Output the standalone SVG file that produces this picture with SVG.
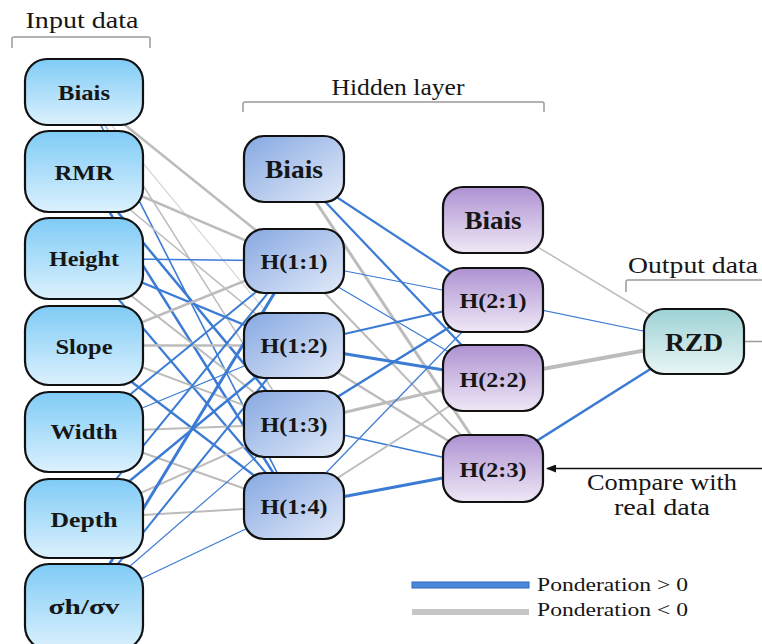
<svg xmlns="http://www.w3.org/2000/svg" width="762" height="644" viewBox="0 0 762 644">
<defs>
<linearGradient id="gIn" x1="0" y1="0" x2="0" y2="1"><stop offset="0" stop-color="#7fcbf6"/><stop offset="1" stop-color="#dcf1fd"/></linearGradient>
<linearGradient id="gH1" x1="0" y1="0" x2="1" y2="1"><stop offset="0" stop-color="#86a8e2"/><stop offset="1" stop-color="#e2eaf8"/></linearGradient>
<linearGradient id="gH2" x1="0" y1="0" x2="0" y2="1"><stop offset="0" stop-color="#ae92d2"/><stop offset="1" stop-color="#efe8f6"/></linearGradient>
<linearGradient id="gOut" x1="0" y1="0" x2="0" y2="1"><stop offset="0" stop-color="#9ed2d5"/><stop offset="1" stop-color="#e8f5f5"/></linearGradient>
<marker id="arr" viewBox="0 0 10 8" refX="9" refY="4" markerWidth="10" markerHeight="8" markerUnits="userSpaceOnUse" orient="auto"><path d="M0,0 L10,4 L0,8 z" fill="#111"/></marker>
</defs>
<style>
text{font-family:"Liberation Serif","DejaVu Serif",serif;fill:#161616}
.n rect{stroke:#111;stroke-width:2.2}
.in rect{fill:url(#gIn)}
.h1 rect{fill:url(#gH1)}
.h2 rect{fill:url(#gH2)}
.out rect{fill:url(#gOut)}
.lbl{font-weight:bold;text-anchor:middle;font-size:22px}
.hl{font-size:21px}
.bl{font-size:25px}
.cap{font-size:23px;text-anchor:middle}
.leg{font-size:19px}
.br{fill:none;stroke:#9a9a9a;stroke-width:1.5}
.b{stroke:#3b7bd3}
.g{stroke:#bcbcbc}
.lg{stroke:#d6d6d6}
</style>

<g id="labels">
<text class="cap" x="82" y="28" textLength="113" lengthAdjust="spacingAndGlyphs">Input data</text>
<path class="br" d="M12,48 V39 Q12,37 14,37 H148 Q150,37 150,39 V48"/>
<text class="cap" x="398" y="95" textLength="133" lengthAdjust="spacingAndGlyphs">Hidden layer</text>
<path class="br" d="M243,112 V104 Q243,102 245,102 H542 Q544,102 544,104 V112"/>
<text class="cap" x="693" y="273" textLength="130" lengthAdjust="spacingAndGlyphs">Output data</text>
<path class="br" d="M626,292 V282 Q626,280 628,280 H762"/>
<text class="cap" x="662" y="490" textLength="150" lengthAdjust="spacingAndGlyphs">Compare with</text>
<text class="cap" x="662" y="515" textLength="96" lengthAdjust="spacingAndGlyphs">real data</text>
</g>

<g id="connectors" fill="none">
<line class="g" stroke-width="2.5" x1="84" y1="92" x2="294" y2="261"/>
<line class="lg" stroke-width="1.2" x1="84" y1="92" x2="294" y2="345.5"/>
<line class="g" stroke-width="1.5" x1="84" y1="92" x2="294" y2="424"/>
<line class="b" stroke-width="1.6" x1="84" y1="92" x2="294" y2="506"/>
<line class="g" stroke-width="2.5" x1="84" y1="171.5" x2="294" y2="261"/>
<line class="g" stroke-width="1.5" x1="84" y1="171.5" x2="294" y2="345.5"/>
<line class="b" stroke-width="2.5" x1="84" y1="171.5" x2="294" y2="424"/>
<line class="b" stroke-width="2.5" x1="84" y1="171.5" x2="294" y2="506"/>
<line class="b" stroke-width="1.5" x1="84" y1="258.5" x2="294" y2="261"/>
<line class="b" stroke-width="2.2" x1="84" y1="258.5" x2="294" y2="345.5"/>
<line class="g" stroke-width="2" x1="84" y1="258.5" x2="294" y2="424"/>
<line class="b" stroke-width="2.2" x1="84" y1="258.5" x2="294" y2="506"/>
<line class="g" stroke-width="2.5" x1="84" y1="345.5" x2="294" y2="261"/>
<line class="g" stroke-width="2.5" x1="84" y1="345.5" x2="294" y2="345.5"/>
<line class="g" stroke-width="2" x1="84" y1="345.5" x2="294" y2="424"/>
<line class="b" stroke-width="2.5" x1="84" y1="345.5" x2="294" y2="506"/>
<line class="b" stroke-width="2" x1="84" y1="432" x2="294" y2="261"/>
<line class="b" stroke-width="1.2" x1="84" y1="432" x2="294" y2="345.5"/>
<line class="g" stroke-width="2" x1="84" y1="432" x2="294" y2="424"/>
<line class="g" stroke-width="2" x1="84" y1="432" x2="294" y2="506"/>
<line class="b" stroke-width="2" x1="84" y1="518.5" x2="294" y2="261"/>
<line class="b" stroke-width="2.5" x1="84" y1="518.5" x2="294" y2="345.5"/>
<line class="g" stroke-width="2" x1="84" y1="518.5" x2="294" y2="424"/>
<line class="g" stroke-width="2" x1="84" y1="518.5" x2="294" y2="506"/>
<line class="b" stroke-width="3" x1="84" y1="606" x2="294" y2="261"/>
<line class="b" stroke-width="2" x1="84" y1="606" x2="294" y2="345.5"/>
<line class="b" stroke-width="1.2" x1="84" y1="606" x2="294" y2="424"/>
<line class="b" stroke-width="1.2" x1="84" y1="606" x2="294" y2="506"/>

<line class="b" stroke-width="2.2" x1="294" y1="169" x2="493" y2="300"/>
<line class="b" stroke-width="2.2" x1="294" y1="169" x2="493" y2="378"/>
<line class="g" stroke-width="3" x1="294" y1="169" x2="493" y2="468.5"/>
<line class="b" stroke-width="1.2" x1="294" y1="261" x2="493" y2="300"/>
<line class="b" stroke-width="1.2" x1="294" y1="261" x2="493" y2="378"/>
<line class="g" stroke-width="2" x1="294" y1="261" x2="493" y2="468.5"/>
<line class="b" stroke-width="2" x1="294" y1="345.5" x2="493" y2="300"/>
<line class="b" stroke-width="3" x1="294" y1="345.5" x2="493" y2="378"/>
<line class="g" stroke-width="2.5" x1="294" y1="345.5" x2="493" y2="468.5"/>
<line class="b" stroke-width="2.5" x1="294" y1="424" x2="493" y2="300"/>
<line class="g" stroke-width="3" x1="294" y1="424" x2="493" y2="378"/>
<line class="b" stroke-width="1.6" x1="294" y1="424" x2="493" y2="468.5"/>
<line class="b" stroke-width="1.2" x1="294" y1="506" x2="493" y2="300"/>
<line class="g" stroke-width="2" x1="294" y1="506" x2="493" y2="378"/>
<line class="b" stroke-width="3" x1="294" y1="506" x2="493" y2="468.5"/>

<line class="g" stroke-width="1.5" x1="493" y1="220" x2="694" y2="341.5"/>
<line class="b" stroke-width="1.2" x1="493" y1="300" x2="694" y2="341.5"/>
<line class="g" stroke-width="4" x1="493" y1="378" x2="694" y2="341.5"/>
<line class="b" stroke-width="2.5" x1="493" y1="468.5" x2="694" y2="341.5"/>

<line stroke="#9a9a9a" stroke-width="1.5" x1="744" y1="341.5" x2="762" y2="341.5"/>
<line stroke="#111" stroke-width="1.5" x1="762" y1="468.5" x2="547" y2="468.5" marker-end="url(#arr)"/>
</g>

<g id="in-biais" class="n in"><rect x="25" y="59" width="118" height="66" rx="22"/><text class="lbl" x="84" y="99.5" textLength="52" lengthAdjust="spacingAndGlyphs">Biais</text></g>
<g id="in-rmr" class="n in"><rect x="25" y="131" width="118" height="81" rx="24"/><text class="lbl" x="84" y="179.5" textLength="59" lengthAdjust="spacingAndGlyphs">RMR</text></g>
<g id="in-height" class="n in"><rect x="25" y="218" width="118" height="81" rx="24"/><text class="lbl" x="84" y="266" textLength="70" lengthAdjust="spacingAndGlyphs">Height</text></g>
<g id="in-slope" class="n in"><rect x="25" y="306" width="118" height="79" rx="24"/><text class="lbl" x="84" y="353.5" textLength="57" lengthAdjust="spacingAndGlyphs">Slope</text></g>
<g id="in-width" class="n in"><rect x="25" y="392" width="118" height="80" rx="24"/><text class="lbl" x="84" y="439" textLength="67" lengthAdjust="spacingAndGlyphs">Width</text></g>
<g id="in-depth" class="n in"><rect x="25" y="479" width="118" height="79" rx="24"/><text class="lbl" x="84" y="526.5" textLength="67" lengthAdjust="spacingAndGlyphs">Depth</text></g>
<g id="in-sigma" class="n in"><rect x="25" y="564" width="118" height="86" rx="24"/><text class="lbl" x="84" y="613.5" textLength="71" lengthAdjust="spacingAndGlyphs">σh/σv</text></g>

<g id="h1-biais" class="n h1"><rect x="244" y="136" width="100" height="66" rx="20"/><text class="lbl bl" x="294" y="177.5" textLength="58" lengthAdjust="spacingAndGlyphs">Biais</text></g>
<g id="h11" class="n h1"><rect x="244" y="229" width="100" height="64" rx="20"/><text class="lbl hl" x="294" y="269" textLength="67" lengthAdjust="spacingAndGlyphs">H(1:1)</text></g>
<g id="h12" class="n h1"><rect x="244" y="313" width="100" height="65" rx="20"/><text class="lbl hl" x="294" y="353" textLength="67" lengthAdjust="spacingAndGlyphs">H(1:2)</text></g>
<g id="h13" class="n h1"><rect x="244" y="391" width="100" height="66" rx="20"/><text class="lbl hl" x="294" y="432" textLength="67" lengthAdjust="spacingAndGlyphs">H(1:3)</text></g>
<g id="h14" class="n h1"><rect x="244" y="473" width="100" height="66" rx="20"/><text class="lbl hl" x="294" y="513.5" textLength="67" lengthAdjust="spacingAndGlyphs">H(1:4)</text></g>

<g id="h2-biais" class="n h2"><rect x="443" y="187" width="100" height="66" rx="20"/><text class="lbl bl" x="493" y="228.5" textLength="57" lengthAdjust="spacingAndGlyphs">Biais</text></g>
<g id="h21" class="n h2"><rect x="443" y="268" width="100" height="64" rx="20"/><text class="lbl hl" x="493" y="308" textLength="67" lengthAdjust="spacingAndGlyphs">H(2:1)</text></g>
<g id="h22" class="n h2"><rect x="443" y="345" width="100" height="66" rx="20"/><text class="lbl hl" x="493" y="386.5" textLength="67" lengthAdjust="spacingAndGlyphs">H(2:2)</text></g>
<g id="h23" class="n h2"><rect x="443" y="435" width="100" height="67" rx="20"/><text class="lbl hl" x="493" y="477" textLength="67" lengthAdjust="spacingAndGlyphs">H(2:3)</text></g>

<g id="rzd" class="n out"><rect x="644" y="309" width="100" height="65" rx="20"/><text class="lbl" x="694" y="350.5" style="font-size:26px" textLength="58" lengthAdjust="spacingAndGlyphs">RZD</text></g>

<g id="legend">
<rect x="412" y="582" width="117" height="6" fill="#4a88dc" stroke="#2c67bd" stroke-width="1"/>
<rect x="412" y="609" width="117" height="6" fill="#c6c6c6"/>
<text class="leg" x="537" y="591" textLength="151" lengthAdjust="spacingAndGlyphs">Ponderation &gt; 0</text>
<text class="leg" x="537" y="616" textLength="151" lengthAdjust="spacingAndGlyphs">Ponderation &lt; 0</text>
</g>
</svg>
